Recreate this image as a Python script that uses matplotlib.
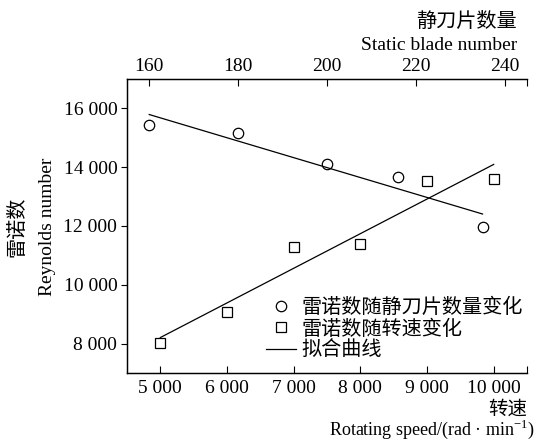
import numpy as np
import matplotlib
matplotlib.use("Agg")
import matplotlib.pyplot as plt
from matplotlib.ticker import FuncFormatter, FixedLocator

plt.rcParams['font.family'] = ['Liberation Serif', 'Noto Sans CJK SC']
plt.rcParams['mathtext.fontset'] = 'custom'
plt.rcParams['mathtext.rm'] = 'Liberation Serif'
plt.rcParams['axes.unicode_minus'] = False

# Reynolds number vs. static blade count (top axis)
blade_num = [160, 180, 200, 216, 235]
re_blade = [15440, 15160, 14100, 13660, 11980]

# Reynolds number vs. rotating speed (bottom axis)
speed = [5000, 6000, 7000, 8000, 9000, 10000]
re_speed = [8030, 9080, 11290, 11390, 13520, 13590]

speed_ticks = [5000, 6000, 7000, 8000, 9000, 10000, 10500]
blade_ticks = [160, 180, 200, 220, 240, 245]
re_ticks = [8000, 10000, 12000, 14000, 16000]

# least-squares fits
kb = np.polyfit(blade_num, re_blade, 1)
ks = np.polyfit(speed, re_speed, 1)
xb = np.array([blade_num[0], blade_num[-1]])
xs = np.array([speed[0], speed[-1]])


def spaced(v):
    return f'{v:,.0f}'.replace(',', ' ')


fig = plt.figure(figsize=(5.4, 4.4), dpi=100)
ax = fig.add_axes([127 / 540, 67 / 440, 400 / 540, 294 / 440])
ax2 = ax.twiny()

sq, = ax.plot(speed, re_speed, 's', ms=6.8, mfc='white', mec='black', mew=0.9)
fit, = ax.plot(xs, np.polyval(ks, xs), '-', color='black', lw=0.9)
ci, = ax2.plot(blade_num, re_blade, 'o', ms=7.5, mfc='white', mec='black', mew=0.9)
ax2.plot(xb, np.polyval(kb, xb), '-', color='black', lw=0.9)

ax.set_xlim(4500, 10500)
ax.set_ylim(7000, 17000)
ax2.set_xlim(155, 245)

ax.xaxis.set_major_locator(FixedLocator(speed_ticks))
ax.xaxis.set_major_formatter(FuncFormatter(lambda v, p: '' if v == 10500 else spaced(v)))
ax.yaxis.set_major_locator(FixedLocator(re_ticks))
ax.yaxis.set_major_formatter(FuncFormatter(lambda v, p: spaced(v)))
ax2.xaxis.set_major_locator(FixedLocator(blade_ticks))
ax2.xaxis.set_major_formatter(FuncFormatter(lambda v, p: '' if v == 245 else f'{v:.0f}'))

for a in (ax, ax2):
    a.spines['right'].set_visible(False)
    for s in a.spines.values():
        s.set_linewidth(0.9)
ax.tick_params(axis='x', direction='in', length=5, width=0.8, labelsize=14, pad=5)
ax.tick_params(axis='y', direction='out', length=4, width=0.8, labelsize=14, pad=3)
ax2.tick_params(axis='x', direction='in', length=5, width=0.8, labelsize=14, pad=3)

# axis titles
fig.text(517 / 540, 1 - 22 / 440, '静刀片数量', ha='right', va='center', fontsize=14.5)
fig.text(517 / 540, 1 - 45 / 440, 'Static blade number', ha='right', va='center', fontsize=14)
fig.text(527 / 540, 1 - 410 / 440, '转速', ha='right', va='center', fontsize=14)
fig.text(535 / 540, 1 - 429 / 440, r'Rotating speed/(rad · min$^{-1}$)',
         ha='right', va='center', fontsize=13)
fig.text(18 / 540, 1 - 227 / 440, '雷诺数', ha='center', va='center',
         rotation=90, fontsize=14.5)
fig.text(47 / 540, 1 - 227 / 440, 'Reynolds number', ha='center', va='center',
         rotation=90, fontsize=14)

leg = ax.legend([ci, sq, fit], ['雷诺数随静刀片数量变化', '雷诺数随转速变化', '拟合曲线'],
                loc='upper left', bbox_to_anchor=(266 / 540, 1 - 299 / 440),
                bbox_transform=fig.transFigure, frameon=False, fontsize=14.5,
                borderpad=0, borderaxespad=0, handlelength=1.5, handletextpad=0.25,
                labelspacing=0.1, numpoints=1)

fig.savefig('out.png', dpi=100)
